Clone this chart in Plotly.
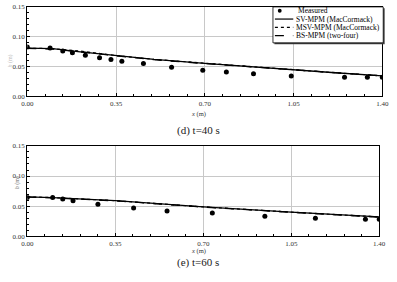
import plotly.graph_objects as go

# t = 40 s
x_meas_40 = [0.0, 0.09, 0.14, 0.178, 0.229, 0.285, 0.33, 0.373, 0.458, 0.569, 0.692, 0.785, 0.892, 1.041, 1.251, 1.341, 1.40]
h_meas_40 = [0.083, 0.081, 0.076, 0.073, 0.069, 0.065, 0.062, 0.059, 0.055, 0.049, 0.044, 0.041, 0.038, 0.034, 0.032, 0.032, 0.032]
x_sim_40 = [0.0, 0.10, 0.20, 0.35, 0.50, 0.70, 0.90, 1.05, 1.20, 1.40]
h_sv_40 = [0.081, 0.080, 0.075, 0.068, 0.062, 0.0555, 0.049, 0.045, 0.040, 0.0345]
h_msv_40 = [0.081, 0.080, 0.0765, 0.0685, 0.062, 0.0555, 0.049, 0.045, 0.040, 0.0345]
h_bs_40 = [0.0805, 0.0795, 0.075, 0.068, 0.0615, 0.055, 0.049, 0.0445, 0.0398, 0.0343]

# t = 60 s
x_meas_60 = [0.0, 0.101, 0.141, 0.182, 0.281, 0.423, 0.556, 0.736, 0.945, 1.146, 1.345, 1.40]
h_meas_60 = [0.0644, 0.0644, 0.0617, 0.059, 0.053, 0.047, 0.042, 0.0385, 0.033, 0.030, 0.028, 0.028]
x_sim_60 = [0.0, 0.10, 0.35, 0.70, 1.05, 1.40]
h_sv_60 = [0.0655, 0.064, 0.059, 0.0487, 0.040, 0.032]
h_msv_60 = [0.0655, 0.0642, 0.059, 0.0487, 0.040, 0.032]
h_bs_60 = [0.065, 0.0638, 0.0588, 0.0485, 0.0398, 0.0318]

x_ticks = [0.0, 0.35, 0.70, 1.05, 1.40]
y_ticks = [0.0, 0.05, 0.10, 0.15]
legend_names = ["Measured", "SV-MPM (MacCormack)", "MSV-MPM (MacCormack)", "BS-MPM (two-four)"]

FONT = "Liberation Serif"
W, H = 397, 282
fig = go.Figure()

def add_panel(xa, ya, xm, hm, xs, hsv, hmsv, hbs):
    fig.add_trace(go.Scatter(x=xs, y=hsv, mode="lines", name=legend_names[1],
                             line=dict(color="black", width=1.3), xaxis=xa, yaxis=ya))
    fig.add_trace(go.Scatter(x=xs, y=hmsv, mode="lines", name=legend_names[2],
                             line=dict(color="black", width=1.2, dash="dot"), xaxis=xa, yaxis=ya))
    fig.add_trace(go.Scatter(x=xs, y=hbs, mode="lines", name=legend_names[3],
                             line=dict(color="black", width=1.3, dash="dash"), xaxis=xa, yaxis=ya))
    fig.add_trace(go.Scatter(x=xm, y=hm, mode="markers", name=legend_names[0],
                             marker=dict(color="black", size=5), xaxis=xa, yaxis=ya))

add_panel("x", "y", x_meas_40, h_meas_40, x_sim_40, h_sv_40, h_msv_40, h_bs_40)
add_panel("x2", "y2", x_meas_60, h_meas_60, x_sim_60, h_sv_60, h_msv_60, h_bs_60)

ax_common = dict(showline=True, linecolor="black", linewidth=1.2, mirror=True,
                 showgrid=True, gridcolor="#c8c8c8", gridwidth=1, zeroline=False,
                 ticks="inside", ticklen=3, tickcolor="black",
                 tickfont=dict(family=FONT, size=7, color="#333"))
xcommon = dict(ax_common, range=[0, 1.40], tickvals=x_ticks, ticktext=["0.00", "0.35", "0.70", "1.05", "1.40"],
               ticklabelstandoff=0,
               minor=dict(dtick=0.07, ticks="inside", ticklen=2, tickcolor="black", showgrid=False))
ycommon = dict(ax_common, range=[0, 0.15], tickvals=y_ticks, ticktext=["0.00", "0.05", "0.10", "0.15"],
               minor=dict(dtick=0.01, ticks="inside", ticklen=2, tickcolor="black", showgrid=False))

fig.update_layout(
    width=W, height=H, margin=dict(l=0, r=0, t=0, b=0),
    paper_bgcolor="white", plot_bgcolor="white", showlegend=False,
    xaxis=dict(xcommon, domain=[0.0554, 0.980], anchor="y"),
    yaxis=dict(ycommon, domain=[0.663, 0.989], anchor="x"),
    xaxis2=dict(xcommon, domain=[0.0554, 0.972], anchor="y2"),
    yaxis2=dict(ycommon, domain=[0.1525, 0.482], anchor="x2"),
)

def px(x):
    return x / W

def py(y):
    return 1 - y / H

# manual compact legend
lx0, lx1, ly0, ly1 = 276, 390, 3, 40
fig.add_shape(type="rect", xref="paper", yref="paper", x0=px(lx0 + 1.5), x1=px(lx1 + 1.5),
              y0=py(ly1 + 1.5), y1=py(ly0 + 1.5), fillcolor="#444", line=dict(width=0))
fig.add_shape(type="rect", xref="paper", yref="paper", x0=px(lx0), x1=px(lx1), y0=py(ly1), y1=py(ly0),
              fillcolor="white", line=dict(color="black", width=0.8))
rows = [7, 15.5, 24, 32.5]
dashes = [None, "solid", "dot", "dash"]
for i, name in enumerate(legend_names):
    yy = rows[i]
    if i == 0:
        fig.add_shape(type="circle", xref="paper", yref="paper",
                      x0=px(281), x1=px(285), y0=py(yy + 2), y1=py(yy - 2),
                      fillcolor="black", line=dict(width=0))
        tx = 300
    else:
        fig.add_shape(type="line", xref="paper", yref="paper", x0=px(278), x1=px(297),
                      y0=py(yy), y1=py(yy), line=dict(color="black", width=1.2, dash=dashes[i]))
        tx = 298
    fig.add_annotation(text=name, x=px(tx), y=py(yy), xref="paper", yref="paper",
                       xanchor="left", yanchor="middle", showarrow=False,
                       font=dict(family=FONT, size=7.5, color="black"))

fig.add_annotation(text="<i>x</i> (m)", x=0.5, y=py(113.5), xref="paper", yref="paper",
                   showarrow=False, borderpad=0, font=dict(family=FONT, size=6.5, color="#333"))
fig.add_annotation(text="(d) t=40 s", x=0.5, y=py(130), xref="paper", yref="paper",
                   showarrow=False, borderpad=0, font=dict(family=FONT, size=11, color="#222"))
fig.add_annotation(text="<i>x</i> (m)", x=0.5, y=py(259), xref="paper", yref="paper",
                   showarrow=False, borderpad=0, font=dict(family=FONT, size=6.5, color="#333"))
fig.add_annotation(text="(e) t=60 s", x=0.5, y=py(273.5), xref="paper", yref="paper",
                   showarrow=False, borderpad=0, font=dict(family=FONT, size=11, color="#222"))
fig.add_annotation(text="<i>h</i> (m)", x=px(6), y=py(193), xref="paper", yref="paper",
                   textangle=-90, showarrow=False, font=dict(family=FONT, size=6, color="#666"))
fig.add_annotation(text="<i>h</i> (m)", x=px(-1), y=py(50), xref="paper", yref="paper",
                   textangle=-90, showarrow=False, xanchor="left", font=dict(family=FONT, size=6, color="#bbb"))

fig.write_html("out.html")
